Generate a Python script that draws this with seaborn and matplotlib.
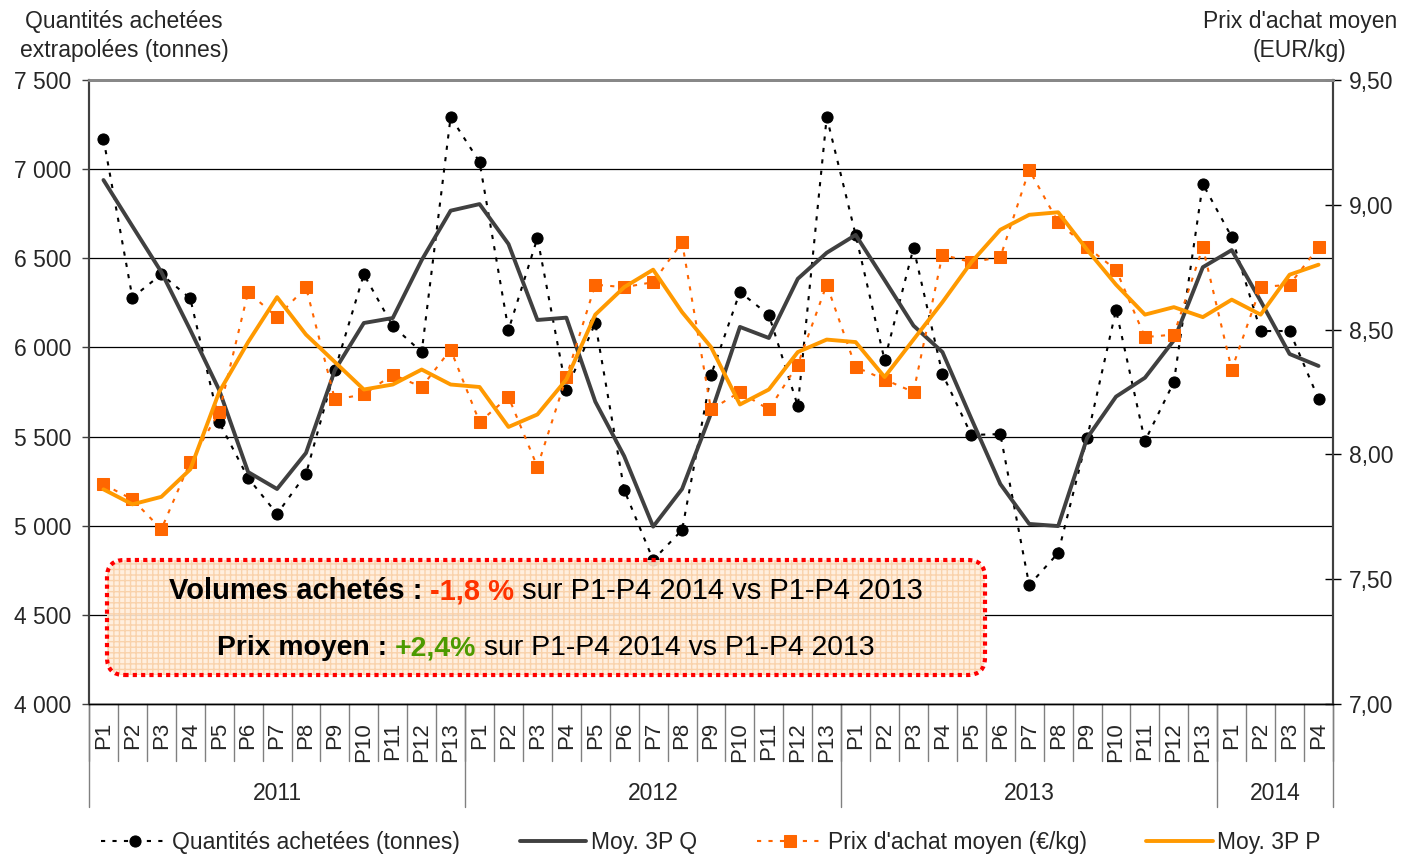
import numpy as np
import pandas as pd
import seaborn as sns
import matplotlib.pyplot as plt
import matplotlib.transforms as mtransforms
from matplotlib.patches import FancyBboxPatch
from matplotlib.offsetbox import TextArea, HPacker, AnnotationBbox
from matplotlib.ticker import FuncFormatter, MultipleLocator

# --- data ---
years = ['2011', '2012', '2013', '2014']
n_periods = [13, 13, 13, 4]

qty = [7170, 6280, 6410, 6275, 5580, 5268, 5066, 5290, 5873, 6410, 6120, 5974, 7292,
       7040, 6098, 6614, 5761, 6137, 5200, 4808, 4976, 5845, 6311, 6182, 5672, 7292,
       6631, 5929, 6558, 5851, 5509, 5514, 4667, 4847, 5492, 6210, 5475, 5806, 6917,
       6619, 6092, 6092, 5711]
qty_avg = [6939, 6680, 6423, 6098, 5761, 5301, 5206, 5408, 5873, 6137, 6165, 6490, 6767,
           6804, 6580, 6154, 6167, 5696, 5390, 4995, 5206, 5630, 6115, 6053, 6385, 6531,
           6631, 6378, 6122, 5974, 5600, 5234, 5010, 4998, 5492, 5724, 5830, 6040, 6450,
           6546, 6260, 5963, 5896]
price = [7.88, 7.82, 7.70, 7.97, 8.17, 8.65, 8.55, 8.67, 8.22, 8.24, 8.32, 8.27, 8.42,
         8.13, 8.23, 7.95, 8.31, 8.68, 8.67, 8.69, 8.85, 8.18, 8.25, 8.18, 8.36, 8.68,
         8.35, 8.30, 8.25, 8.80, 8.77, 8.79, 9.14, 8.93, 8.83, 8.74, 8.47, 8.48, 8.83,
         8.34, 8.67, 8.68, 8.83]
price_avg = [7.86, 7.80, 7.83, 7.94, 8.25, 8.45, 8.63, 8.48, 8.37, 8.26, 8.28, 8.34, 8.28,
             8.27, 8.11, 8.16, 8.30, 8.56, 8.67, 8.74, 8.57, 8.43, 8.20, 8.26, 8.41, 8.46,
             8.45, 8.31, 8.46, 8.61, 8.77, 8.90, 8.96, 8.97, 8.82, 8.68, 8.56, 8.59, 8.55,
             8.62, 8.56, 8.72, 8.76]

periods = []
year_col = []
for y, n in zip(years, n_periods):
    periods += ['P%d' % (i + 1) for i in range(n)]
    year_col += [y] * n

df = pd.DataFrame({'pos': np.arange(len(periods)), 'period': periods, 'year': year_col,
                   'qty': qty, 'qty_avg': qty_avg, 'price': price, 'price_avg': price_avg})

# --- style ---
sns.set_style('white')
plt.rcParams['font.family'] = ['Liberation Sans', 'DejaVu Sans']
FS = 16.5

fig = plt.figure(figsize=(14.02, 8.56), dpi=100)
ax = fig.add_axes([89/1402, 1-704/856, 1244/1402, 624/856])
ax2 = ax.twinx()

dark = '#404040'
orange_sq = '#FF6600'
orange_ln = '#FF9900'

sns.lineplot(data=df, x='pos', y='qty', ax=ax, color='black', lw=1.5, linestyle=(0, (2, 3.5)),
             marker='o', markersize=8, markeredgecolor='black', legend=False,
             label='Quantités achetées (tonnes)')
sns.lineplot(data=df, x='pos', y='qty_avg', ax=ax, color=dark, lw=2.8, legend=False,
             label='Moy. 3P Q')
sns.lineplot(data=df, x='pos', y='price', ax=ax2, color=orange_sq, lw=1.5, linestyle=(0, (2, 3.5)),
             marker='s', markersize=8, markeredgecolor=orange_sq, legend=False,
             label="Prix d'achat moyen (€/kg)")
sns.lineplot(data=df, x='pos', y='price_avg', ax=ax2, color=orange_ln, lw=2.8, legend=False,
             label='Moy. 3P P')

# axes ranges / ticks
ax.set_xlim(-0.5, len(periods) - 0.5)
ax.set_ylim(4000, 7500)
ax2.set_ylim(7.0, 9.5)
ax.yaxis.set_major_locator(MultipleLocator(500))
ax2.yaxis.set_major_locator(MultipleLocator(0.5))
ax.yaxis.set_major_formatter(FuncFormatter(lambda v, p: f'{v:,.0f}'.replace(',', ' ')))
ax2.yaxis.set_major_formatter(FuncFormatter(lambda v, p: f'{v:.2f}'.replace('.', ',')))
for a in (ax, ax2):
    a.set_xlabel('')
    a.set_ylabel('')
ax.grid(axis='y', color='black', lw=0.9)
ax.set_axisbelow(True)

ax.set_xticks(df['pos'])
ax.set_xticklabels(df['period'], rotation=90, va='top', fontsize=16)
ax.tick_params(axis='x', length=0, pad=13)
ax.tick_params(axis='y', direction='out', length=5, width=1, color=dark, labelsize=FS, pad=8, left=True)
ax2.tick_params(axis='y', direction='inout', length=11, width=1, color='black', labelsize=FS, pad=6, right=True)

for a in (ax, ax2):
    a.spines['top'].set_color('#888888')
    a.spines['top'].set_linewidth(2)
    a.spines['left'].set_color(dark)
    a.spines['left'].set_linewidth(1.5)
    a.spines['right'].set_color(dark)
    a.spines['right'].set_linewidth(1.5)
    a.spines['bottom'].set_color('black')
    a.spines['bottom'].set_linewidth(1)

# category separators and year labels
trans = mtransforms.blended_transform_factory(ax.transData, ax.transAxes)
for b in np.arange(-0.5, len(periods)):
    ax.plot([b, b], [0, -57/624], transform=trans, color='#808080', lw=1, clip_on=False)
bounds = np.concatenate([[0], np.cumsum(n_periods)]) - 0.5
for b in bounds:
    ax.plot([b, b], [0, -103/624], transform=trans, color='#808080', lw=1, clip_on=False)
for y, lo, hi in zip(years, bounds[:-1], bounds[1:]):
    ax.text((lo + hi) / 2, -89/624, y, transform=trans, ha='center', va='center', fontsize=FS)

# axis titles
fig.text(124/1402, 1-36/856, 'Quantités achetées\nextrapolées (tonnes)', ha='center', va='center',
         fontsize=FS, linespacing=1.3)
fig.text(1300/1402, 1-36/856, "Prix d'achat moyen\n(EUR/kg)", ha='center', va='center',
         fontsize=FS, linespacing=1.3)

# annotation box
x0, x1 = (107-89)/1244, (985-89)/1244
y0, y1 = (704-675)/624, (704-560)/624
fill = FancyBboxPatch((x0, y0), x1-x0, y1-y0, boxstyle='round,pad=0,rounding_size=0.014',
                      mutation_aspect=2.0, transform=ax2.transAxes, facecolor='#FFEEDC',
                      edgecolor='#F9CFA6', hatch='+++', lw=0, alpha=0.9, zorder=5)
border = FancyBboxPatch((x0, y0), x1-x0, y1-y0, boxstyle='round,pad=0,rounding_size=0.014',
                        mutation_aspect=2.0, transform=ax2.transAxes, facecolor='none',
                        edgecolor='#FF0000', lw=3, linestyle=(0, (1, 1)), zorder=6)
ax2.add_patch(fill)
ax2.add_patch(border)

BFS1, BFS2 = 21, 20.4
line1 = HPacker(children=[
    TextArea('Volumes achetés : ', textprops=dict(fontsize=BFS1, fontweight='bold', color='black')),
    TextArea('-1,8 %', textprops=dict(fontsize=BFS1, fontweight='bold', color='#FF3300')),
    TextArea(' sur P1-P4 2014 vs P1-P4 2013', textprops=dict(fontsize=BFS1, color='black')),
], align='baseline', pad=0, sep=0)
line2 = HPacker(children=[
    TextArea('Prix moyen : ', textprops=dict(fontsize=BFS2, fontweight='bold', color='black')),
    TextArea('+2,4%', textprops=dict(fontsize=BFS2, fontweight='bold', color='#4C9A00')),
    TextArea(' sur P1-P4 2014 vs P1-P4 2013', textprops=dict(fontsize=BFS2, color='black')),
], align='baseline', pad=0, sep=0)
xc = (546-89)/1244
for box, yc in ((line1, (704-591)/624), (line2, (704-648)/624)):
    ab = AnnotationBbox(box, (xc, yc), xycoords=ax2.transAxes, frameon=False,
                        box_alignment=(0.5, 0.5), pad=0)
    ab.set_zorder(7)
    ax2.add_artist(ab)

# legend
handles = list(ax.get_lines()[:2]) + list(ax2.get_lines()[:2])
labels = [h.get_label() for h in handles]
fig.legend(handles, labels, loc='center', bbox_to_anchor=(711/1402, 1-843/856), ncol=4,
           frameon=False, fontsize=FS, handlelength=2.9, handletextpad=0.2, columnspacing=2.6)

fig.savefig('out.png', dpi=100)
